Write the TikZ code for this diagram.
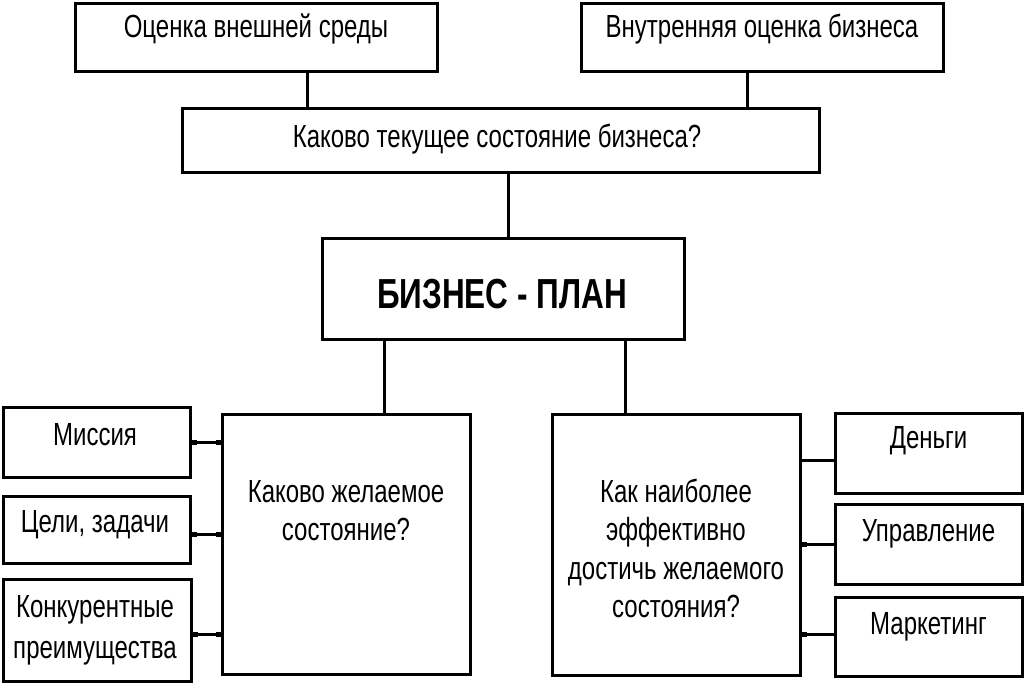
\documentclass[tikz,border=0pt]{standalone}
\usepackage{fontspec}
\setmainfont{Liberation Sans}[FakeStretch=0.75]
\usetikzlibrary{arrows.meta}
\begin{document}
\begin{tikzpicture}[x=1pt,y=-1pt,
  box/.style={draw,line width=3pt,rectangle,inner sep=0pt},
  lbl/.style={inner sep=0pt,anchor=base,font=\fontsize{32}{38.5}\selectfont},
  bigl/.style={inner sep=0pt,anchor=base,font=\fontsize{42}{50}\selectfont\bfseries},
  link/.style={line width=3pt},
  dotlink/.style={line width=3pt,{Square[length=5pt,width=5pt]}-{Square[length=5pt,width=5pt]}},
  rdotlink/.style={line width=3pt,{Square[length=5pt,width=5pt]}-}]
\fill[white] (0,0) rectangle (1024,683);
\useasboundingbox (0,0) rectangle (1024,683);

% boxes
\node[box,minimum width=362pt,minimum height=68pt] (ext) at (256,37) {};
\node[box,minimum width=362pt,minimum height=68pt] (int) at (762,37) {};
\node[box,minimum width=637pt,minimum height=64pt] (cur) at (500.5,140) {};
\node[box,minimum width=362pt,minimum height=101pt] (bp) at (503,288.5) {};
\node[box,minimum width=248pt,minimum height=260pt] (want) at (346,544) {};
\node[box,minimum width=248pt,minimum height=261pt] (how) at (676,544.5) {};
\node[box,minimum width=187pt,minimum height=70pt] (mis) at (96.5,442) {};
\node[box,minimum width=187pt,minimum height=67pt] (goal) at (96.5,529.5) {};
\node[box,minimum width=188pt,minimum height=102pt] (comp) at (97,630) {};
\node[box,minimum width=187pt,minimum height=80pt] (money) at (928.5,453) {};
\node[box,minimum width=187pt,minimum height=80pt] (mgmt) at (928.5,544) {};
\node[box,minimum width=187pt,minimum height=79pt] (mkt) at (928.5,636.5) {};

% texts
\node[lbl] (extT) at (256,37.5) {Оценка внешней среды};
\node[lbl] (intT) at (762,37.5) {Внутренняя оценка бизнеса};
\node[lbl] (curT) at (497,147) {Каково текущее состояние бизнеса?};
\node[bigl] (bpT) at (502,308) {БИЗНЕС - ПЛАН};
\node[lbl] (wantT) at (346,502) {\begin{tabular}[t]{@{}c@{}}Каково желаемое\\состояние?\end{tabular}};
\node[lbl] (howT) at (676,502) {\begin{tabular}[t]{@{}c@{}}Как наиболее\\эффективно\\достичь желаемого\\состояния?\end{tabular}};
\node[lbl] (misT) at (95,445) {Миссия};
\node[lbl] (goalT) at (95,532) {Цели, задачи};
\node[lbl,font=\fontsize{32}{40.5}\selectfont] (compT) at (95,617.5) {\begin{tabular}[t]{@{}c@{}}Конкурентные\\преимущества\end{tabular}};
\node[lbl] (moneyT) at (928.5,448) {Деньги};
\node[lbl] (mgmtT) at (928.5,541) {Управление};
\node[lbl] (mktT) at (928.5,634) {Маркетинг};

% connectors
\draw[link] ([xshift=51pt]ext.south) -- ([xshift=51pt]ext.south |- cur.north);
\draw[link] ([xshift=-15pt]int.south) -- ([xshift=-15pt]int.south |- cur.north);
\draw[link] ([xshift=7.5pt]cur.south) -- ([xshift=7.5pt]cur.south |- bp.north);
\draw[link] ([xshift=-119pt]bp.south) -- ([xshift=38pt]want.north);
\draw[link] ([xshift=122pt]bp.south) -- ([xshift=-51pt]how.north);

\draw[dotlink] (mis.east) -- (mis.east -| want.west);
\draw[dotlink] ([yshift=-4.5pt]goal.east) -- ([yshift=-4.5pt]goal.east -| want.west);
\draw[dotlink] ([yshift=-4pt]comp.east) -- ([yshift=-4pt]comp.east -| want.west);

\draw[link] ([yshift=-7pt]money.west) -- ([yshift=-7pt]money.west -| how.east);
\draw[rdotlink] (how.east |- mgmt.west) -- (mgmt.west);
\draw[rdotlink] ([yshift=2.5pt]how.east |- mkt.west) -- ([yshift=2.5pt]mkt.west);
\end{tikzpicture}
\end{document}
